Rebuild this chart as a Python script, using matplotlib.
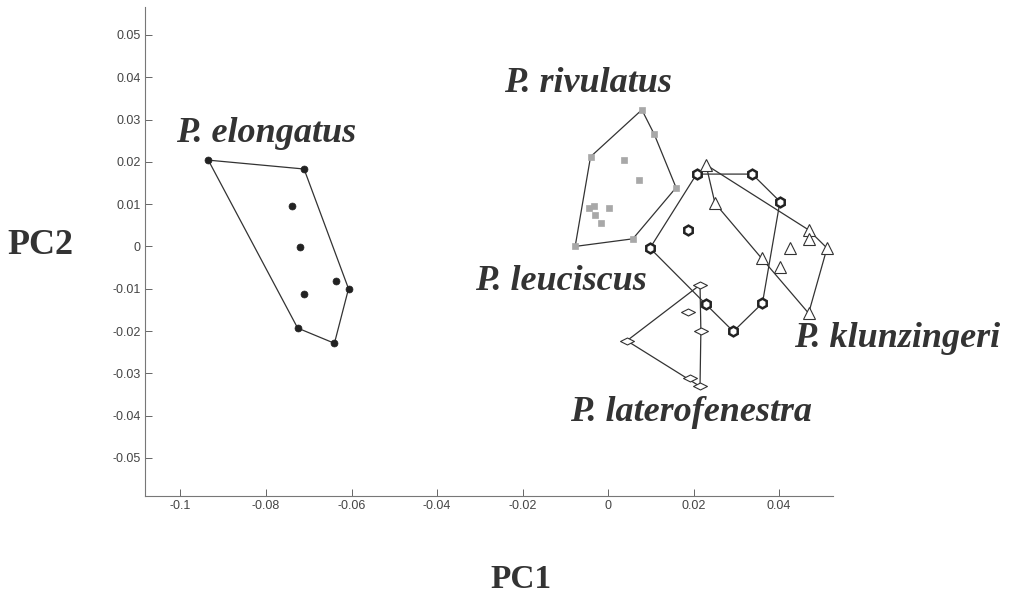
import matplotlib
matplotlib.use("Agg")
import matplotlib.pyplot as plt
import numpy as np
from matplotlib.path import Path

# ---- data ----
elong_x = [-0.0935, -0.0711, -0.0740, -0.0720, -0.0637, -0.0607, -0.0710, -0.0726, -0.0640]
elong_y = [0.0204, 0.0183, 0.0096, -0.0002, -0.0082, -0.0100, -0.0112, -0.0193, -0.0229]

riv_x = [0.0079, 0.0108, -0.0041, 0.0037, 0.0072, 0.0159, -0.0032, -0.0044, 0.0002, -0.0030, -0.0016, 0.0058, -0.0077]
riv_y = [0.0323, 0.0265, 0.0212, 0.0204, 0.0157, 0.0139, 0.0096, 0.0090, 0.0091, 0.0074, 0.0056, 0.0018, 0.0000]

leu_x = [0.0207, 0.0337, 0.0402, 0.0186, 0.0098, 0.0228, 0.0361, 0.0293]
leu_y = [0.0171, 0.0171, 0.0106, 0.0039, -0.0004, -0.0136, -0.0134, -0.0201]

klu_x = [0.0229, 0.0250, 0.0469, 0.0469, 0.0426, 0.0512, 0.0359, 0.0402, 0.0469]
klu_y = [0.0193, 0.0102, 0.0039, 0.0017, -0.0004, -0.0004, -0.0028, -0.0048, -0.0158]

lat_x = [0.0215, 0.0188, 0.0217, 0.0044, 0.0192, 0.0215]
lat_y = [-0.0091, -0.0156, -0.0200, -0.0223, -0.0312, -0.0331]

species = ["P. elongatus", "P. rivulatus", "P. leuciscus", "P. klunzingeri", "P. laterofenestra"]
label_x = [-0.0799, -0.0047, -0.0110, 0.0675, 0.0194]
label_y = [0.0248, 0.0366, -0.0103, -0.0237, -0.0413]

xticks = [-0.1, -0.08, -0.06, -0.04, -0.02, 0, 0.02, 0.04]
xtick_labels = ["-0.1", "-0.08", "-0.06", "-0.04", "-0.02", "0", "0.02", "0.04"]
yticks = [-0.05, -0.04, -0.03, -0.02, -0.01, 0, 0.01, 0.02, 0.03, 0.04, 0.05]
ytick_labels = ["-0.05", "-0.04", "-0.03", "-0.02", "-0.01", "0", "0.01", "0.02", "0.03", "0.04", "0.05"]


def hull(xs, ys):
    pts = sorted(set(zip(xs, ys)))
    def cross(o, a, b):
        return (a[0]-o[0])*(b[1]-o[1]) - (a[1]-o[1])*(b[0]-o[0])
    lower, upper = [], []
    for p in pts:
        while len(lower) >= 2 and cross(lower[-2], lower[-1], p) <= 0:
            lower.pop()
        lower.append(p)
    for p in reversed(pts):
        while len(upper) >= 2 and cross(upper[-2], upper[-1], p) <= 0:
            upper.pop()
        upper.append(p)
    h = lower[:-1] + upper[:-1]
    h.append(h[0])
    return [p[0] for p in h], [p[1] for p in h]


diamond = Path([(-1, 0), (0, 0.5), (1, 0), (0, -0.5), (-1, 0)],
               [Path.MOVETO, Path.LINETO, Path.LINETO, Path.LINETO, Path.CLOSEPOLY])

fig = plt.figure(figsize=(10.09, 5.96), dpi=100)
ax = fig.add_axes([145/1009, 1-496/596, (833-145)/1009, (496-7)/596])

lc = "#333333"
groups = [
    (elong_x, elong_y, dict(marker="o", ms=5, mfc="#222222", mec="#222222", mew=0.5)),
    (riv_x, riv_y, dict(marker="s", ms=4.3, mfc="#a8a8a8", mec="#a8a8a8", mew=0.5)),
    (leu_x, leu_y, dict(marker="h", ms=7, mfc="white", mec="#222222", mew=1.8)),
    (klu_x, klu_y, dict(marker="^", ms=8, mfc="white", mec="#333333", mew=0.8)),
    (lat_x, lat_y, dict(marker=diamond, ms=10, mfc="white", mec="#333333", mew=0.8)),
]
for xs, ys, st in groups:
    hx, hy = hull(xs, ys)
    ax.plot(hx, hy, color=lc, lw=0.9, zorder=2)
for xs, ys, st in groups:
    ax.plot(xs, ys, ls="none", zorder=3, **st)

for name, lx, ly in zip(species, label_x, label_y):
    ax.text(lx, ly, name, ha="center", va="baseline", fontsize=26,
            family="Liberation Serif", fontweight="bold", fontstyle="italic",
            color="#333333", clip_on=False)

ax.set_xlim(-0.1083, 0.0526)
ax.set_ylim(-0.059, 0.0566)
ax.set_xticks(xticks)
ax.set_xticklabels(xtick_labels)
ax.set_yticks(yticks)
ax.set_yticklabels(ytick_labels)
ax.tick_params(direction="in", length=5, width=0.7, color="#666666",
               labelsize=9, labelcolor="#444444", pad=3)
for lab in ax.get_xticklabels() + ax.get_yticklabels():
    lab.set_family("Liberation Sans")
for s in ["top", "right"]:
    ax.spines[s].set_visible(False)
for s in ["left", "bottom"]:
    ax.spines[s].set_color("#777777")
    ax.spines[s].set_linewidth(0.8)

fig.text(40/1009, 1-245/596, "PC2", ha="center", va="center", fontsize=26,
         family="Liberation Serif", fontweight="bold", color="#333333")
fig.text(521/1009, 1-588/596, "PC1", ha="center", va="baseline", fontsize=24,
         family="Liberation Serif", fontweight="bold", color="#333333")

fig.savefig("out.png", dpi=100, facecolor="white")
